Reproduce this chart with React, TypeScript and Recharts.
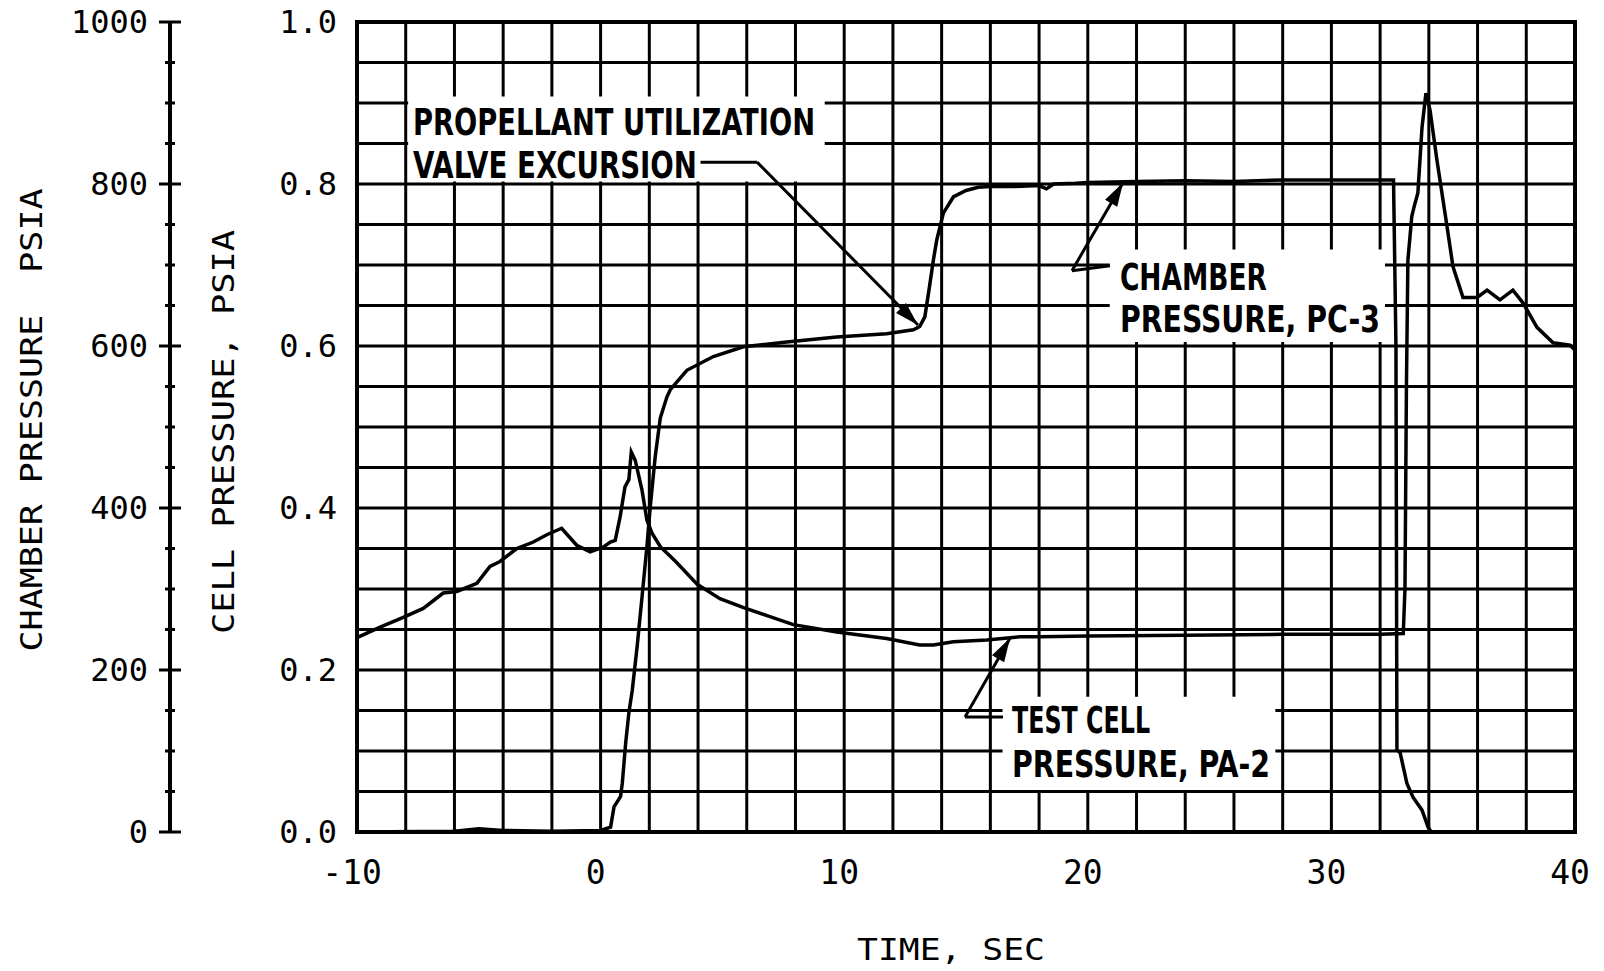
import React from 'react';
import {
    ComposedChart,
    Line,
    XAxis,
    YAxis,
    CartesianGrid,
    ReferenceArea,
    ReferenceLine,
    ReferenceDot
} from 'recharts';

// axis ticks and grid
const timeTicks = [-10, 0, 10, 20, 30, 40];
const gridTimes = [-10, -8, -6, -4, -2, 0, 2, 4, 6, 8, 10, 12, 14, 16, 18, 20, 22, 24, 26, 28, 30, 32, 34, 36, 38, 40];
const cellTicks = [0, 0.2, 0.4, 0.6, 0.8, 1.0];
const gridCell = [0, 0.05, 0.1, 0.15, 0.2, 0.25, 0.3, 0.35, 0.4, 0.45, 0.5, 0.55, 0.6, 0.65, 0.7, 0.75, 0.8, 0.85, 0.9, 0.95, 1.0];
const chamberTicks = [0, 50, 100, 150, 200, 250, 300, 350, 400, 450, 500, 550, 600, 650, 700, 750, 800, 850, 900, 950, 1000];

// test cell pressure PA-2 (psia)
const cellTime = [
    -10, -9.05, -8.1, -7.28, -6.46, -5.9, -5.08, -4.54, -4.13, -3.44, -2.76, -2.21, -1.6, -0.98, -0.43,
    0.12, 0.4, 0.6, 0.8, 1.0, 1.16, 1.26, 1.42, 1.7, 1.9, 2.11, 2.46, 2.87, 3.14, 3.96, 4.9, 5.87,
    6.95, 7.91, 9.69, 11.74, 13.1, 13.66, 14.48, 15.85, 17.2, 18.05, 20, 24, 28, 32, 32.95,
    33.02, 33.08, 33.14, 33.3, 33.43, 33.55, 33.72, 33.88, 34.05, 34.33, 34.75, 34.99, 35.4, 35.98,
    36.39, 36.92, 37.45, 37.87, 38.44, 39.1, 39.79, 40
];
const cellPsia = [
    0.240, 0.253, 0.265, 0.276, 0.295, 0.297, 0.307, 0.328, 0.334, 0.350, 0.358, 0.367, 0.375, 0.354, 0.346,
    0.352, 0.358, 0.360, 0.389, 0.426, 0.435, 0.469, 0.459, 0.422, 0.385, 0.369, 0.352, 0.340, 0.332, 0.306, 0.288, 0.277,
    0.266, 0.256, 0.247, 0.239, 0.231, 0.231, 0.235, 0.237, 0.241, 0.241, 0.242, 0.243, 0.244, 0.244, 0.245,
    0.30, 0.55, 0.706, 0.760, 0.776, 0.789, 0.870, 0.912, 0.891, 0.830, 0.747, 0.698, 0.660, 0.660,
    0.669, 0.657, 0.669, 0.653, 0.623, 0.604, 0.601, 0.595
];

// chamber pressure PC-3 (psia)
const chamberTime = [
    -10, -6, -5, -4, -2, 0, 0.41, 0.55, 0.82, 0.89, 1.03, 1.16, 1.3, 1.5, 1.7, 1.9, 2.04, 2.24, 2.45,
    2.72, 2.86, 3.54, 4.63, 5.86, 7.64, 9.69, 11.74, 12.84, 13.1, 13.31, 13.5, 13.66, 13.8, 14.07, 14.48,
    15, 15.5, 16, 17, 18, 18.3, 18.6, 19.5, 20, 22, 24, 26, 28, 30, 32, 32.55,
    32.65, 32.69, 32.82, 33.1, 33.35, 33.72, 33.97, 34.1, 40
];
const chamberPsia = [
    0, 1, 4, 2, 1, 2, 6, 31, 44, 60, 110, 147, 175, 229, 290, 352, 402, 463, 511,
    537, 546, 570, 587, 599, 605, 611, 615, 620, 624, 636, 673, 706, 731, 764, 784,
    792, 796, 797, 797, 798, 794, 800, 801, 802, 803, 804, 803, 805, 805, 805, 805,
    600, 101, 98, 60, 43, 27, 6, 0, 0
];

const cellData = cellTime.map((t, i) => ({ t, v: cellPsia[i] }));
const chamberData = chamberTime.map((t, i) => ({ t, v: chamberPsia[i] }));

const monoFont = "'DejaVu Sans Mono', monospace";
const noteFont = "'Liberation Sans Narrow', 'DejaVu Sans Condensed', sans-serif";

const ChamberTick = (props: any) => {
    const { x, y, payload } = props;
    const major = payload.value % 200 === 0;
    const half = major ? 11 : 5;
    return (
        <g>
            <line x1={x - half} x2={x + half} y1={y} y2={y} stroke="#000" strokeWidth={3} />
            {major && (
                <text x={x - 22} y={y} textAnchor="end" dominantBaseline="central"
                    fontFamily={monoFont} fontSize={32} fill="#000">
                    {payload.value}
                </text>
            )}
        </g>
    );
};

const CellTick = (props: any) => {
    const { x, y, payload } = props;
    return (
        <text x={x} y={y} textAnchor="end" dominantBaseline="central"
            fontFamily={monoFont} fontSize={32} fill="#000">
            {payload.value.toFixed(1)}
        </text>
    );
};

const TimeTick = (props: any) => {
    const { x, y, payload } = props;
    return (
        <text x={x - 5} y={y} textAnchor="middle" dominantBaseline="central"
            fontFamily={monoFont} fontSize={33} fill="#000">
            {payload.value}
        </text>
    );
};

// annotation text shapes
const noteText = (text: string, len: number) => (p: any) => (
    <text x={p.cx} y={p.cy} textLength={len} lengthAdjust="spacingAndGlyphs"
        fontFamily={noteFont} fontWeight="bold" fontSize={37} fill="#000">
        {text}
    </text>
);

const arrowHead = (angle: number) => (p: any) => (
    <polygon points="0,0 -24,-7 -24,7" fill="#000"
        transform={`translate(${p.cx},${p.cy}) rotate(${angle})`} />
);

export default function App() {
    return (
        <div style={{ position: 'absolute', left: 0, top: 0, background: '#fff' }}>
            <ComposedChart width={1604} height={971} margin={{ top: 22, right: 29, bottom: 0, left: 10 }}>
                <CartesianGrid yAxisId="cell" stroke="#000" strokeWidth={3}
                    horizontalValues={gridCell} verticalValues={gridTimes} />

                <XAxis
                    dataKey="t"
                    type="number"
                    domain={[-10, 40]}
                    ticks={timeTicks}
                    interval={0}
                    height={139}
                    axisLine={false}
                    tickLine={false}
                    tickSize={0}
                    tickMargin={40}
                    tick={<TimeTick />}
                    label={(p: any) => (
                        <text x={p.viewBox.x + p.viewBox.width / 2 - 15} y={p.viewBox.y + 128}
                            textAnchor="middle" fontFamily={monoFont} fontSize={30} fill="#000"
                            textLength={188} lengthAdjust="spacingAndGlyphs">
                            TIME, SEC
                        </text>
                    )}
                />
                <YAxis
                    yAxisId="cell"
                    orientation="left"
                    type="number"
                    domain={[0, 1]}
                    ticks={cellTicks}
                    interval={0}
                    width={187}
                    axisLine={false}
                    tickLine={false}
                    tickSize={0}
                    tickMargin={20}
                    tick={<CellTick />}
                    label={(p: any) => {
                        const cx = p.viewBox.x + 53;
                        const cy = p.viewBox.y + p.viewBox.height / 2 + 5;
                        return (
                            <text x={cx} y={cy} transform={`rotate(-90 ${cx} ${cy})`}
                                textAnchor="middle" dominantBaseline="central"
                                fontFamily={monoFont} fontSize={30} fill="#000"
                                textLength={404} lengthAdjust="spacingAndGlyphs">
                                CELL PRESSURE, PSIA
                            </text>
                        );
                    }}
                />
                <YAxis
                    yAxisId="chamber"
                    orientation="left"
                    type="number"
                    domain={[0, 1000]}
                    ticks={chamberTicks}
                    interval={0}
                    width={160}
                    axisLine={{ stroke: '#000', strokeWidth: 4 }}
                    tickLine={false}
                    tickSize={0}
                    tickMargin={0}
                    tick={<ChamberTick />}
                    label={(p: any) => {
                        const cx = p.viewBox.x + 21;
                        const cy = p.viewBox.y + p.viewBox.height / 2 - 7;
                        return (
                            <text x={cx} y={cy} transform={`rotate(-90 ${cx} ${cy})`}
                                textAnchor="middle" dominantBaseline="central"
                                fontFamily={monoFont} fontSize={30} fill="#000"
                                textLength={463} lengthAdjust="spacingAndGlyphs"
                                style={{ whiteSpace: 'pre' }}>
                                {'CHAMBER PRESSURE  PSIA'}
                            </text>
                        );
                    }}
                />

                {/* label boxes erase the grid */}
                <ReferenceArea yAxisId="cell" x1={-7.9} x2={9.2} y1={0.803} y2={0.908} fill="#fff" fillOpacity={1} stroke="none" />
                <ReferenceArea yAxisId="cell" x1={20.9} x2={32.2} y1={0.605} y2={0.719} fill="#fff" fillOpacity={1} stroke="none" />
                <ReferenceArea yAxisId="cell" x1={16.5} x2={27.7} y1={0.052} y2={0.167} fill="#fff" fillOpacity={1} stroke="none" />

                <Line yAxisId="chamber" data={chamberData} dataKey="v" type="linear" stroke="#000"
                    strokeWidth={3.5} dot={false} activeDot={false} isAnimationActive={false} />
                <Line yAxisId="cell" data={cellData} dataKey="v" type="linear" stroke="#000"
                    strokeWidth={3.5} dot={false} activeDot={false} isAnimationActive={false} />

                {/* propellant utilization note */}
                <ReferenceDot yAxisId="cell" x={-7.7} y={0.8605} r={0} shape={noteText('PROPELLANT UTILIZATION', 402)} />
                <ReferenceDot yAxisId="cell" x={-7.7} y={0.807} r={0} shape={noteText('VALVE EXCURSION', 284)} />
                <ReferenceLine yAxisId="cell" segment={[{ x: 4.1, y: 0.827 }, { x: 6.42, y: 0.827 }]} stroke="#000" strokeWidth={3} />
                <ReferenceLine yAxisId="cell" segment={[{ x: 6.42, y: 0.827 }, { x: 13.03, y: 0.626 }]} stroke="#000" strokeWidth={3} />
                <ReferenceDot yAxisId="cell" x={13.03} y={0.626} r={0} shape={arrowHead(45)} />

                {/* chamber pressure note */}
                <ReferenceDot yAxisId="cell" x={21.32} y={0.669} r={0} shape={noteText('CHAMBER', 147)} />
                <ReferenceDot yAxisId="cell" x={21.32} y={0.617} r={0} shape={noteText('PRESSURE, PC-3', 260)} />
                <ReferenceLine yAxisId="cell" segment={[{ x: 20.91, y: 0.699 }, { x: 19.35, y: 0.693 }]} stroke="#000" strokeWidth={3} />
                <ReferenceLine yAxisId="cell" segment={[{ x: 19.35, y: 0.693 }, { x: 21.45, y: 0.802 }]} stroke="#000" strokeWidth={3} />
                <ReferenceDot yAxisId="cell" x={21.45} y={0.802} r={0} shape={arrowHead(-60)} />

                {/* test cell pressure note */}
                <ReferenceDot yAxisId="cell" x={16.89} y={0.122} r={0} shape={noteText('TEST CELL', 138)} />
                <ReferenceDot yAxisId="cell" x={16.89} y={0.068} r={0} shape={noteText('PRESSURE, PA-2', 258)} />
                <ReferenceLine yAxisId="cell" segment={[{ x: 16.52, y: 0.142 }, { x: 14.96, y: 0.142 }]} stroke="#000" strokeWidth={3} />
                <ReferenceLine yAxisId="cell" segment={[{ x: 14.96, y: 0.142 }, { x: 16.81, y: 0.2395 }]} stroke="#000" strokeWidth={3} />
                <ReferenceDot yAxisId="cell" x={16.81} y={0.2395} r={0} shape={arrowHead(-60)} />

                {/* plot frame */}
                <ReferenceArea yAxisId="cell" x1={-10} x2={40} y1={0} y2={1} fill="none" stroke="#000" strokeWidth={4} />
            </ComposedChart>
        </div>
    );
}
